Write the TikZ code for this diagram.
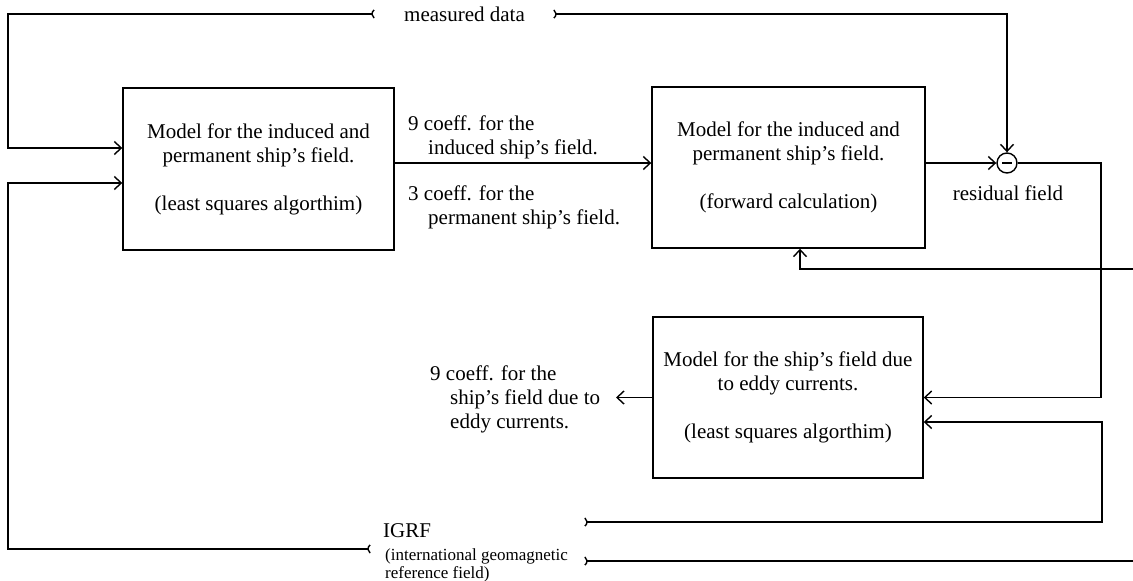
\documentclass[tikz,border=0pt]{standalone}
\usepackage{fontspec}
\setmainfont{Liberation Serif}
\usetikzlibrary{arrows.meta,calc}
\newcommand\cutL[1]{\draw[wire] (#1) ++(5pt,0pt) ++(125:5pt) arc[start angle=125,end angle=235,radius=5pt];}
\newcommand\cutR[1]{\draw[wire] (#1) ++(-5pt,0pt) ++(-55:5pt) arc[start angle=-55,end angle=55,radius=5pt];}
\begin{document}
\begin{tikzpicture}[x=1pt,y=-1pt,
  every node/.style={font=\fontsize{21}{24}\selectfont},
  box/.style={draw,line width=1.4pt,align=center,minimum width=271pt,minimum height=162pt,inner sep=0pt},
  wire/.style={line width=1.4pt},
  arr/.style={wire,-{Straight Barb[length=7pt,width=13pt]}},
  lbl/.style={align=left,inner sep=0pt,anchor=base west},
  small/.style={font=\fontsize{17}{20}\selectfont}]
\fill[white] (0,0) rectangle (1133,581);
\useasboundingbox (0,0) rectangle (1133,581);

% boxes
\node[box,minimum width=271pt,minimum height=162pt] (box1) at (258.5,169) {Model for the induced and\\permanent ship's field.\\[24pt](least squares algorthim)};
\node[box,minimum width=273pt,minimum height=161pt] (box2) at (788.5,167.5) {Model for the induced and\\permanent ship's field.\\[24pt](forward calculation)};
\node[box,minimum width=270pt,minimum height=161pt] (box3) at (788,397.5) {Model for the ship's field due\\to eddy currents.\\[24pt](least squares algorthim)};
\node[circle,draw,line width=1.4pt,minimum size=20pt,inner sep=0pt] (sum) at (1007,163) {};
\draw[line width=2pt] ($(sum.center)+(-5,0)$) -- ($(sum.center)+(5,0)$);

% helper coordinates
\coordinate (tl) at (8,14);
\coordinate (topcut) at (372,14);
\coordinate (topresume) at (556,14);
\coordinate (y148) at (0,148);
\coordinate (y183) at (0,183);
\coordinate (y163) at (0,163);
\coordinate (y422) at (0,422);
\coordinate (x800) at (800,0);
\coordinate (botcut) at (368,549);
\coordinate (bl) at (8,549);
\coordinate (r1) at (587,522);
\coordinate (r1c) at (1102,522);
\coordinate (r2) at (587,561);
\coordinate (redge2) at (1133,561);
\coordinate (redge1) at (1133,269);
\coordinate (rc) at (1101,163);
\coordinate (eddyend) at (616,397.5);

% connectors
\draw[arr] (topcut) -- (tl) |- (box1.west |- y148);
\cutL{topcut}
\cutR{topresume}
\draw[arr] (topresume) -- (sum.north |- tl) -- (sum.north);
\draw[arr] (botcut) -- (bl) |- (box1.west |- y183);
\cutL{botcut}
\draw[arr] (box1.east |- y163) -- (box2.west |- y163);
\draw[arr] (box2.east |- sum) -- (sum.west);
\draw[arr] (sum.east) -- (rc) |- (box3.east);
\draw[arr] (redge1) -| (box2.south -| x800);
\draw[arr] (r1) -- (r1c) |- (box3.east |- y422);
\cutR{r1}
\draw[wire] (r2) -- (redge2);
\cutR{r2}
\draw[arr] (box3.west) -- (eddyend);

% labels
\node[lbl] (md) at (404,21) {measured data};
\node[lbl] (l9a) at (408,130) {9 coeff. for the};
\node[lbl] (l9b) at (428,154) {induced ship's field.};
\node[lbl] (l3a) at (408,200) {3 coeff. for the};
\node[lbl] (l3b) at (428,224) {permanent ship's field.};
\node (res) at (1008,193) {residual field};
\node[lbl] (e1) at (430,380) {9 coeff. for the};
\node[lbl] (e2) at (450,404) {ship's field due to};
\node[lbl] (e3) at (450,428) {eddy currents.};
\node[lbl] (igrf) at (383,537) {IGRF};
\node[lbl,small] (igrf2) at (385,560) {(international geomagnetic};
\node[lbl,small] (igrf3) at (385,578) {reference field)};
\end{tikzpicture}
\end{document}
